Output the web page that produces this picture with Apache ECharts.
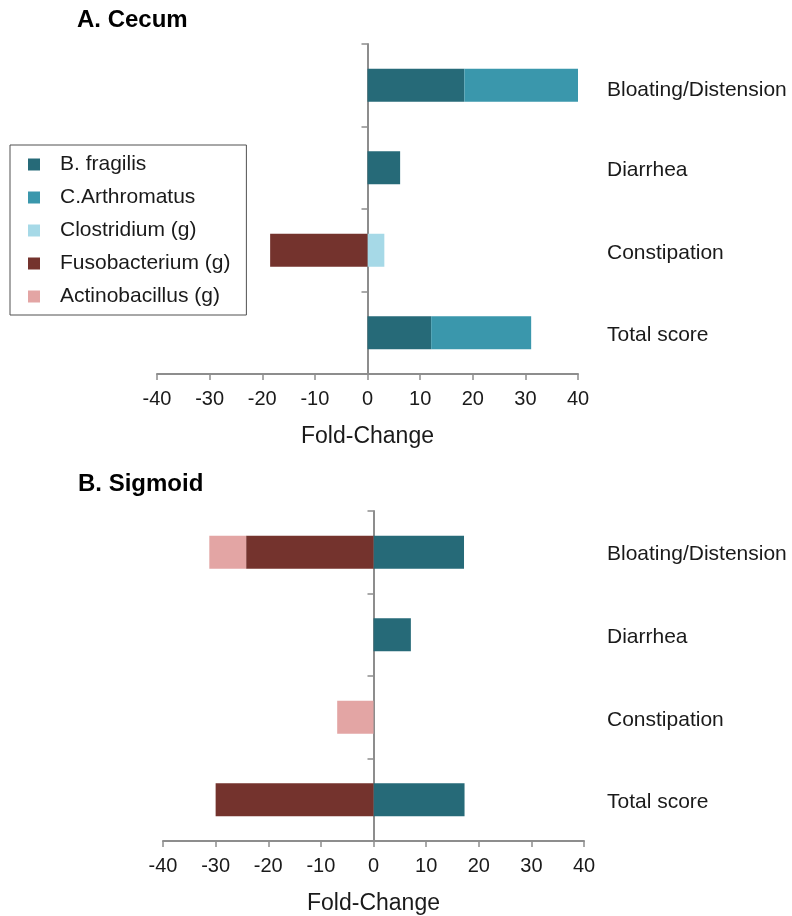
<!DOCTYPE html>
<html>
<head>
<meta charset="utf-8">
<script src="https://cdn.jsdelivr.net/npm/echarts@6/dist/echarts.min.js"></script>
<style>
  html, body { margin: 0; padding: 0; background: #fff; }
  #chart { width: 792px; height: 916px; }
</style>
</head>
<body>
<div id="chart"></div>
<script>
// Symptom categories, top to bottom
const symptoms = ['Bloating/Distension', 'Diarrhea', 'Constipation', 'Total score'];

// Taxa shown in the legend
const taxa = ['B. fragilis', 'C.Arthromatus', 'Clostridium (g)', 'Fusobacterium (g)', 'Actinobacillus (g)'];

// Fold-change per taxon and symptom (null = not associated)
// A. Cecum
const cecumBFragilis     = [18.4, 6.2, null, 12.1];
const cecumCArthromatus  = [21.6, null, null, 19.0];
const cecumClostridium   = [null, null, 3.2, null];
const cecumFusobacterium = [null, null, -18.5, null];
const cecumActinobacillus = [null, null, null, null];

// B. Sigmoid
const sigmoidBFragilis     = [17.2, 7.1, null, 17.3];
const sigmoidCArthromatus  = [null, null, null, null];
const sigmoidClostridium   = [null, null, null, null];
const sigmoidFusobacterium = [-24.2, null, null, -30.0];
const sigmoidActinobacillus = [-7.0, null, -6.9, null];

// Fold-change axis ticks
const foldMin = -40, foldMax = 40, foldStep = 10;

const colors = ['#266a78', '#3a97ac', '#a6d9e7', '#74332d', '#e3a5a4'];
const FONT = 'Liberation Sans, Arial, Helvetica, sans-serif';
const AXIS_GRAY = '#8d8d8d';
const TEXT = '#1a1a1a';

const panels = [
  { data: [cecumBFragilis, cecumCArthromatus, cecumClostridium, cecumFusobacterium, cecumActinobacillus],
    grid: { left: 157, top: 44, width: 421, height: 330 }, labelMargin: 29, firstLabelDrop: 10 },
  { data: [sigmoidBFragilis, sigmoidCArthromatus, sigmoidClostridium, sigmoidFusobacterium, sigmoidActinobacillus],
    grid: { left: 163, top: 511, width: 421, height: 330 }, labelMargin: 23, firstLabelDrop: 4 }
];

const grids = [], xAxes = [], yAxes = [], series = [];
panels.forEach((p, i) => {
  grids.push(Object.assign({ containLabel: false }, p.grid));
  xAxes.push({
    type: 'value', gridIndex: i, min: foldMin, max: foldMax, interval: foldStep,
    name: 'Fold-Change', nameLocation: 'middle', nameGap: 51,
    nameTextStyle: { fontFamily: FONT, fontSize: 23, color: TEXT },
    axisLine: { show: true, onZero: false, lineStyle: { color: AXIS_GRAY, width: 2 } },
    axisTick: { show: true, length: 6, lineStyle: { color: AXIS_GRAY, width: 1.5 } },
    axisLabel: { fontFamily: FONT, fontSize: 20, color: TEXT, margin: 15 },
    splitLine: { show: false }
  });
  // axis through zero with boundary ticks
  yAxes.push({
    type: 'category', gridIndex: i, data: symptoms, inverse: true, position: 'left',
    axisLine: { show: true, onZero: true, lineStyle: { color: AXIS_GRAY, width: 2 } },
    axisTick: { show: true, length: 6, lineStyle: { color: AXIS_GRAY, width: 1.5 } },
    axisLabel: { show: false },
    splitLine: { show: false }
  });
  // symptom names on the right
  yAxes.push({
    type: 'category', gridIndex: i, data: symptoms, inverse: true, position: 'right',
    axisLine: { show: false, onZero: false },
    axisTick: { show: false },
    axisLabel: {
      fontFamily: FONT, fontSize: 21, color: TEXT, margin: p.labelMargin, align: 'left',
      formatter: (v, idx) => (idx === 0 ? '{top|' + v + '}' : '{row|' + v + '}'),
      rich: {
        top: { fontFamily: FONT, fontSize: 21, color: TEXT, padding: [p.firstLabelDrop, 0, 0, 0] },
        row: { fontFamily: FONT, fontSize: 21, color: TEXT, padding: [5, 0, 0, 0] }
      }
    },
    splitLine: { show: false }
  });
  taxa.forEach((name, k) => {
    series.push({
      type: 'bar', name: name, xAxisIndex: i, yAxisIndex: i * 2,
      stack: 'panel' + i, barWidth: '40%',
      itemStyle: { color: colors[k] },
      data: p.data[k]
    });
  });
});

const chart = echarts.init(document.getElementById('chart'), null, { renderer: 'canvas' });
chart.setOption({
  backgroundColor: '#ffffff',
  animation: false,
  color: colors,
  title: [
    { text: 'A. Cecum', left: 72, top: 3, textStyle: { fontFamily: FONT, fontSize: 24, fontWeight: 'bold', color: '#000' } },
    { text: 'B. Sigmoid', left: 73, top: 467, textStyle: { fontFamily: FONT, fontSize: 24, fontWeight: 'bold', color: '#000' } }
  ],
  legend: {
    data: taxa, orient: 'vertical', left: 10, top: 145,
    padding: [9, 16, 8, 18], itemGap: 12, itemWidth: 12, itemHeight: 12, icon: 'rect',
    borderColor: '#505050', borderWidth: 1, backgroundColor: '#fff',
    textStyle: { fontFamily: FONT, fontSize: 21, color: TEXT, lineHeight: 21, padding: [0, 0, 0, 15] }
  },
  grid: grids,
  xAxis: xAxes,
  yAxis: yAxes,
  series: series
});
</script>
</body>
</html>
